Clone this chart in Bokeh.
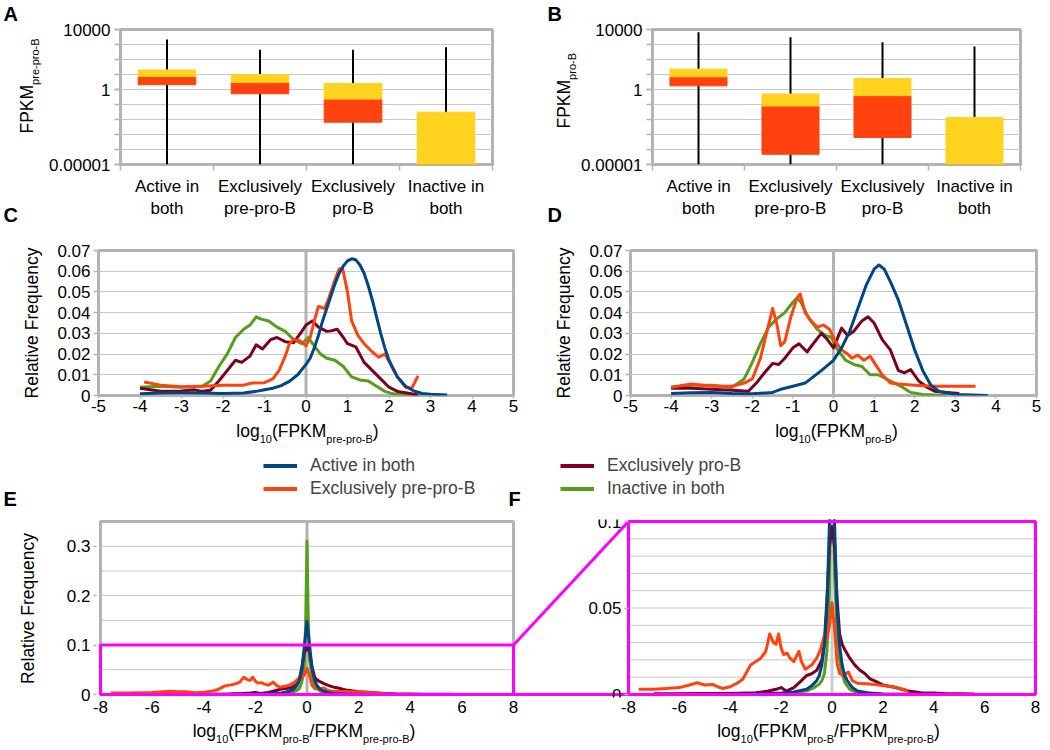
import math
from bokeh.plotting import figure
from bokeh.layouts import column, row
from bokeh.models import (Range1d, FixedTicker, NumeralTickFormatter, Label, Span,
                          Legend, LegendItem, LinearAxis)
from bokeh.embed import file_html
from bokeh.resources import INLINE

# ------------------------------------------------------------------ data
CATEGORIES = ["Active in both", "Exclusively pre-pro-B", "Exclusively pro-B", "Inactive in both"]
CATEGORY_TICK_LABELS = ["Active in\nboth", "Exclusively\npre-pro-B", "Exclusively\npro-B", "Inactive in\nboth"]

# Panel A: FPKM in pre-pro-B (box statistics per category)
A_MIN = [1e-5, 1e-5, 1e-5, 1e-5]
A_Q1 = [2.1, 0.52, 0.0066, 1e-5]
A_MEDIAN = [7.4, 2.9, 0.23, 1e-5]
A_Q3 = [20, 10, 2.5, 0.031]
A_MAX = [2150, 440, 440, 660]
# Panel B: FPKM in pro-B
B_MIN = [1e-5, 1e-5, 1e-5, 1e-5]
B_Q1 = [1.75, 4.8e-5, 6.3e-4, 1e-5]
B_MEDIAN = [7.0, 0.079, 0.39, 1e-5]
B_Q3 = [23, 0.5, 5.4, 0.0138]
B_MAX = [6600, 3050, 1400, 730]

FPKM_GRID_TICKS = [1e-5, 1e-4, 1e-3, 1e-2, 1e-1, 1, 10, 100, 1000, 1e4]
FPKM_LABEL_TICKS = [1e-5, 1, 1e4]

FREQ_TICKS = [0, 0.01, 0.02, 0.03, 0.04, 0.05, 0.06, 0.07]
LOG_TICKS = [-5, -4, -3, -2, -1, 0, 1, 2, 3, 4, 5]

# Panel C: distributions of log10(FPKM pre-pro-B)
C_X_ACTIVE = [-4.0, -3.5, -3.0, -2.5, -2.0, -1.5, -1.2, -1.0, -0.8, -0.6, -0.4, -0.2, 0.0, 0.1, 0.2, 0.3, 0.4, 0.5, 0.6, 0.7, 0.8, 0.9, 1.0, 1.1, 1.2, 1.3, 1.4, 1.5, 1.6, 1.7, 1.8, 1.9, 2.0, 2.2, 2.4, 2.6, 2.8, 3.0, 3.4]
C_Y_ACTIVE = [0.0008, 0.0012, 0.0013, 0.0012, 0.0010, 0.0012, 0.0020, 0.0028, 0.0035, 0.0048, 0.0068, 0.0100, 0.0150, 0.0180, 0.0230, 0.0290, 0.0360, 0.0420, 0.0480, 0.0540, 0.0590, 0.0625, 0.0650, 0.0660, 0.0655, 0.0630, 0.0590, 0.0530, 0.0460, 0.0380, 0.0300, 0.0230, 0.0170, 0.0090, 0.0045, 0.0022, 0.0010, 0.0006, 0.0002]
C_X_PREPRO = [-3.9, -3.5, -3.0, -2.5, -2.0, -1.5, -1.3, -1.0, -0.8, -0.65, -0.5, -0.4, -0.3, -0.15, 0.0, 0.1, 0.2, 0.3, 0.45, 0.55, 0.7, 0.8, 0.88, 1.0, 1.1, 1.25, 1.4, 1.6, 1.75, 1.9, 2.0, 2.2, 2.4, 2.55, 2.7]
C_Y_PREPRO = [0.0065, 0.0050, 0.0042, 0.0045, 0.0050, 0.0050, 0.0060, 0.0062, 0.0080, 0.0120, 0.0190, 0.0250, 0.0270, 0.0265, 0.0240, 0.0280, 0.0360, 0.0430, 0.0420, 0.0470, 0.0560, 0.0610, 0.0615, 0.0500, 0.0360, 0.0290, 0.0250, 0.0210, 0.0185, 0.0200, 0.0165, 0.0090, 0.0040, 0.0035, 0.0095]
C_X_PRO = [-4.0, -3.5, -3.0, -2.7, -2.5, -2.3, -2.1, -1.9, -1.7, -1.55, -1.35, -1.2, -1.05, -0.85, -0.7, -0.5, -0.3, -0.1, 0.0, 0.15, 0.3, 0.5, 0.6, 0.75, 0.9, 1.0, 1.2, 1.4, 1.6, 1.8, 2.0, 2.2, 2.5, 2.7]
C_Y_PRO = [0.0035, 0.0020, 0.0022, 0.0028, 0.0020, 0.0025, 0.0070, 0.0120, 0.0170, 0.0160, 0.0190, 0.0245, 0.0225, 0.0270, 0.0280, 0.0260, 0.0255, 0.0310, 0.0340, 0.0360, 0.0330, 0.0310, 0.0312, 0.0320, 0.0280, 0.0250, 0.0235, 0.0160, 0.0120, 0.0080, 0.0040, 0.0020, 0.0010, 0.0002]
C_X_INACTIVE = [-4.0, -3.5, -3.0, -2.5, -2.3, -2.1, -1.9, -1.7, -1.5, -1.35, -1.2, -1.1, -0.9, -0.7, -0.5, -0.3, -0.1, 0.05, 0.2, 0.35, 0.5, 0.7, 0.9, 1.1, 1.3, 1.5, 1.7, 1.9, 2.1, 2.4, 2.8]
C_Y_INACTIVE = [0.0040, 0.0045, 0.0040, 0.0045, 0.0070, 0.0140, 0.0200, 0.0280, 0.0320, 0.0340, 0.0380, 0.0370, 0.0360, 0.0330, 0.0310, 0.0270, 0.0250, 0.0280, 0.0240, 0.0200, 0.0180, 0.0170, 0.0140, 0.0090, 0.0075, 0.0070, 0.0045, 0.0020, 0.0008, 0.0003, 0.0000]

# Panel D: distributions of log10(FPKM pro-B)
D_X_ACTIVE = [-4.0, -3.5, -3.0, -2.5, -2.0, -1.5, -1.3, -1.0, -0.7, -0.5, -0.3, 0.0, 0.2, 0.4, 0.6, 0.8, 1.0, 1.12, 1.25, 1.4, 1.6, 1.8, 2.0, 2.2, 2.4, 2.6, 3.0, 3.4, 3.8]
D_Y_ACTIVE = [0.0010, 0.0013, 0.0015, 0.0010, 0.0008, 0.0015, 0.0030, 0.0045, 0.0060, 0.0090, 0.0120, 0.0170, 0.0230, 0.0310, 0.0420, 0.0530, 0.0610, 0.0630, 0.0610, 0.0550, 0.0460, 0.0340, 0.0220, 0.0120, 0.0050, 0.0020, 0.0005, 0.0002, 0.0000]
D_X_PREPRO = [-4.0, -3.5, -3.0, -2.5, -2.2, -2.0, -1.8, -1.65, -1.5, -1.4, -1.3, -1.2, -1.05, -0.9, -0.82, -0.7, -0.55, -0.4, -0.25, -0.1, 0.05, 0.2, 0.35, 0.45, 0.6, 0.75, 0.9, 1.0, 1.2, 1.4, 1.6, 2.0, 2.5, 3.0, 3.5]
D_Y_PREPRO = [0.0040, 0.0055, 0.0045, 0.0045, 0.0060, 0.0080, 0.0180, 0.0300, 0.0420, 0.0350, 0.0240, 0.0260, 0.0380, 0.0470, 0.0490, 0.0400, 0.0360, 0.0330, 0.0340, 0.0320, 0.0260, 0.0220, 0.0200, 0.0180, 0.0195, 0.0170, 0.0190, 0.0160, 0.0100, 0.0060, 0.0055, 0.0050, 0.0045, 0.0045, 0.0045]
D_X_PRO = [-4.0, -3.5, -3.0, -2.5, -2.1, -1.9, -1.7, -1.5, -1.35, -1.2, -1.0, -0.85, -0.65, -0.5, -0.3, -0.15, 0.0, 0.2, 0.35, 0.5, 0.7, 0.85, 1.0, 1.2, 1.4, 1.6, 1.75, 1.9, 2.1, 2.3, 2.5, 2.8, 3.1]
D_Y_PRO = [0.0035, 0.0035, 0.0030, 0.0025, 0.0020, 0.0060, 0.0110, 0.0155, 0.0150, 0.0180, 0.0230, 0.0250, 0.0210, 0.0250, 0.0300, 0.0270, 0.0230, 0.0325, 0.0290, 0.0310, 0.0360, 0.0380, 0.0350, 0.0270, 0.0220, 0.0120, 0.0110, 0.0125, 0.0070, 0.0040, 0.0020, 0.0015, 0.0010]
D_X_INACTIVE = [-4.0, -3.5, -3.0, -2.5, -2.2, -2.0, -1.8, -1.6, -1.4, -1.2, -1.0, -0.9, -0.8, -0.6, -0.4, -0.2, -0.05, 0.1, 0.3, 0.5, 0.7, 0.9, 1.1, 1.3, 1.5, 1.7, 1.9, 2.2, 2.8]
D_Y_INACTIVE = [0.0040, 0.0050, 0.0050, 0.0040, 0.0080, 0.0160, 0.0250, 0.0330, 0.0370, 0.0400, 0.0450, 0.0470, 0.0450, 0.0370, 0.0320, 0.0290, 0.0280, 0.0220, 0.0170, 0.0150, 0.0140, 0.0100, 0.0100, 0.0080, 0.0060, 0.0040, 0.0015, 0.0005, 0.0000]

# Panels E/F: distributions of log10(FPKM pro-B / FPKM pre-pro-B)
E_X_ACTIVE = [-5.0, -4.0, -3.0, -2.0, -1.5, -1.0, -0.8, -0.6, -0.5, -0.4, -0.3, -0.2, -0.1, 0.0, 0.1, 0.2, 0.3, 0.4, 0.5, 0.6, 0.8, 1.0, 1.5, 2.0, 3.0, 4.0]
E_Y_ACTIVE = [0.0, 0.0002, 0.0004, 0.0008, 0.0015, 0.003, 0.005, 0.008, 0.011, 0.017, 0.028, 0.05, 0.1, 0.148, 0.1, 0.05, 0.028, 0.017, 0.011, 0.008, 0.004, 0.002, 0.0008, 0.0003, 0.0001, 0.0]
E_X_PREPRO = [-7.6, -7.0, -6.5, -6.0, -5.6, -5.3, -5.0, -4.7, -4.5, -4.3, -4.0, -3.7, -3.5, -3.2, -3.0, -2.8, -2.6, -2.45, -2.3, -2.2, -2.1, -2.0, -1.9, -1.77, -1.65, -1.5, -1.4, -1.3, -1.2, -1.05, -0.9, -0.8, -0.6, -0.45, -0.3, -0.2, -0.1, 0.0, 0.1, 0.2, 0.3, 0.45, 0.65, 0.8, 1.0, 1.5, 2.0, 2.5, 3.0]
E_Y_PREPRO = [0.003, 0.003, 0.0035, 0.004, 0.0055, 0.0068, 0.0055, 0.0058, 0.0045, 0.0035, 0.0045, 0.0068, 0.009, 0.017, 0.019, 0.021, 0.025, 0.035, 0.030, 0.029, 0.035, 0.027, 0.023, 0.024, 0.021, 0.019, 0.022, 0.025, 0.019, 0.0146, 0.016, 0.017, 0.021, 0.026, 0.034, 0.032, 0.040, 0.053, 0.038, 0.018, 0.012, 0.011, 0.013, 0.008, 0.0065, 0.006, 0.0052, 0.0042, 0.002]
E_X_PRO = [-7.0, -6.0, -5.0, -4.0, -3.0, -2.5, -2.2, -2.0, -1.8, -1.5, -1.2, -1.0, -0.8, -0.6, -0.4, -0.3, -0.2, -0.1, 0.0, 0.1, 0.2, 0.3, 0.4, 0.5, 0.7, 0.9, 1.1, 1.3, 1.5, 1.8, 2.0, 2.5, 3.0, 3.5, 4.0, 4.5, 5.0, 5.6]
E_Y_PRO = [0.0005, 0.0005, 0.0006, 0.0006, 0.001, 0.002, 0.003, 0.004, 0.002, 0.004, 0.008, 0.011, 0.012, 0.014, 0.02, 0.03, 0.055, 0.085, 0.097, 0.085, 0.055, 0.035, 0.029, 0.026, 0.021, 0.017, 0.014, 0.012, 0.009, 0.007, 0.0055, 0.004, 0.002, 0.001, 0.0008, 0.0005, 0.0005, 0.0003]
E_X_INACTIVE = [-3.0, -2.0, -1.0, -0.7, -0.5, -0.4, -0.3, -0.2, -0.1, -0.05, 0.0, 0.05, 0.1, 0.2, 0.3, 0.4, 0.5, 0.7, 1.0, 2.0, 3.0]
E_Y_INACTIVE = [0.0002, 0.0005, 0.002, 0.004, 0.006, 0.008, 0.012, 0.025, 0.06, 0.15, 0.31, 0.15, 0.07, 0.035, 0.02, 0.012, 0.007, 0.003, 0.001, 0.0003, 0.0]

RATIO_TICKS = [-8, -6, -4, -2, 0, 2, 4, 6, 8]
E_Y_TICKS = [0, 0.1, 0.2, 0.3]
E_GRID = [0.05, 0.1, 0.15, 0.2, 0.25, 0.3]
E_YMAX = 0.35
F_YMAX = 0.1
F_Y_TICKS = [0, 0.05, 0.1]
F_GRID = [0.01, 0.02, 0.03, 0.04, 0.05, 0.06, 0.07, 0.08, 0.09]

# ------------------------------------------------------------------ style
FONT = "Liberation Sans"
TICK_FS = "17px"
TEXT_FS = 17.5
SUB_FS = 11
SUB_DROP = 5
MID = 0.35          # distance (in em) from the text's middle line down to its baseline
GRAY = "#b3b3b3"
GRID = "#c8c8c8"
BLUE, ORANGE, YELLOW, DARKRED, GREEN = "#004586", "#ff420e", "#ffd320", "#7e0021", "#579d1c"
MAGENTA = "#ff00ff"
SERIES_COLORS = [BLUE, ORANGE, DARKRED, GREEN]

CW = {'l': 222, 'o': 556, 'g': 556, 'p': 556, 'r': 333, 'e': 556, 'B': 667, 'F': 611,
      'P': 667, 'K': 667, 'M': 833, '(': 333, ')': 333, '/': 278, '-': 333}


def text_width(s, size):
    return sum(CW.get(c, 556) for c in s) * size / 1000.0


def strip(width, height):
    """A text-only canvas whose data units are its own pixels (y grows downwards)."""
    p = figure(width=width, height=height, x_range=Range1d(0, width), y_range=Range1d(height, 0),
               x_axis_location=None, y_axis_location=None, min_border=0, frame_align=False,
               output_backend="svg", toolbar_location=None)
    p.outline_line_color = None
    p.grid.visible = False
    return p


def rich(p, x0, y0, parts, start=None, vertical=False):
    """Text with subscripts; (x0, y0) is on the baseline (start or centre of the text)."""
    sizes = [SUB_FS if sub else TEXT_FS for _, sub in parts]
    widths = [text_width(t, s) for (t, _), s in zip(parts, sizes)]
    pos = -sum(widths) / 2.0 if start is None else start
    for (t, sub), s, w in zip(parts, sizes, widths):
        drop = SUB_DROP if sub else 0
        if vertical:
            x, y, ang = x0 + drop - MID * s, y0 - pos, math.pi / 2
        else:
            x, y, ang = x0 + pos, y0 + drop - MID * s, 0.0
        p.add_layout(Label(x=x, y=y, text=t, angle=ang, text_align="left",
                           text_baseline="middle", text_font=FONT,
                           text_font_size=f"{s}px", text_color="black"))
        pos += w


def letter(p, x, y, text):
    p.add_layout(Label(x=x, y=y - MID * 20, text=text, text_font=FONT, text_font_size="20px",
                       text_font_style="bold", text_color="black",
                       text_align="left", text_baseline="middle"))


def style_axis(ax, tick_out=5, standoff=3):
    ax.axis_line_color = None
    ax.major_tick_line_color = GRAY
    ax.minor_tick_line_color = GRAY
    ax.major_tick_line_width = 1.5
    ax.minor_tick_line_width = 1.5
    ax.major_tick_in = 0
    ax.major_tick_out = tick_out
    ax.minor_tick_in = 0
    ax.minor_tick_out = 0
    ax.major_label_standoff = standoff
    ax.major_label_text_font = FONT
    ax.major_label_text_font_size = TICK_FS
    ax.major_label_text_color = "black"
    ax.axis_label_text_font = FONT
    ax.axis_label_text_font_size = f"{TEXT_FS}px"
    ax.axis_label_text_font_style = "normal"
    ax.axis_label_text_color = "black"


# ------------------------------------------------------------------ row 1 : A / B
H1 = 225


def box_fig(width, left, right, q1, med, q3, lo, hi):
    p = figure(width=width, height=H1, x_range=Range1d(0, len(CATEGORIES)),
               y_range=Range1d(FPKM_GRID_TICKS[0], FPKM_GRID_TICKS[-1]), y_axis_type="log",
               output_backend="svg", toolbar_location=None, frame_align=False,
               min_border_left=left, min_border_right=right, min_border_top=29, min_border_bottom=61)
    p.outline_line_color = GRAY
    p.outline_line_width = 3
    p.xgrid.visible = False
    p.ygrid.ticker = FixedTicker(ticks=FPKM_GRID_TICKS)
    p.ygrid.grid_line_color = GRID
    xs = [i + 0.5 for i in range(len(CATEGORIES))]
    p.segment(x0=xs, y0=lo, x1=xs, y1=hi, line_color="black", line_width=2)
    p.vbar(x=xs, width=0.62, bottom=q1, top=med, fill_color=ORANGE, line_color=ORANGE)
    p.vbar(x=xs, width=0.62, bottom=med, top=q3, fill_color=YELLOW, line_color=YELLOW)
    style_axis(p.yaxis[0], tick_out=6, standoff=4)
    p.yaxis.ticker = FixedTicker(ticks=FPKM_LABEL_TICKS, minor_ticks=FPKM_GRID_TICKS)
    p.yaxis.minor_tick_out = 6
    p.yaxis.formatter = NumeralTickFormatter(format="0.[00000]")
    style_axis(p.xaxis[0], tick_out=0, standoff=6)
    p.xaxis.ticker = FixedTicker(ticks=xs, minor_ticks=list(range(len(CATEGORIES) + 1)))
    p.xaxis.minor_tick_out = 6
    p.xaxis.major_label_overrides = {x: lab for x, lab in zip(xs, CATEGORY_TICK_LABELS)}
    return p


sa = strip(45, H1)
letter(sa, 3, 20, "A")
letter(sa, 3, 221, "C")
rich(sa, 33, 133, [("FPKM", 0), ("pre-pro-B", 1)], start=0, vertical=True)
pa = box_fig(475, 75, 28, A_Q1, A_MEDIAN, A_Q3, A_MIN, A_MAX)

sb = strip(58, H1)
letter(sb, 27, 20, "B")
letter(sb, 27, 221, "D")
rich(sb, 50, 128, [("FPKM", 0), ("pro-B", 1)], start=0, vertical=True)
pb = box_fig(472, 74, 30, B_Q1, B_MEDIAN, B_Q3, B_MIN, B_MAX)


# ------------------------------------------------------------------ row 2 : C / D
H2 = 194


def dist_fig(width, left, right, series):
    p = figure(width=width, height=H2, x_range=Range1d(LOG_TICKS[0], LOG_TICKS[-1]),
               y_range=Range1d(FREQ_TICKS[0], FREQ_TICKS[-1]),
               output_backend="svg", toolbar_location=None, frame_align=False,
               min_border_left=left, min_border_right=right, min_border_top=25, min_border_bottom=24)
    p.outline_line_color = GRAY
    p.outline_line_width = 3
    p.xgrid.visible = False
    p.ygrid.ticker = FixedTicker(ticks=FREQ_TICKS)
    p.ygrid.grid_line_color = GRID
    style_axis(p.yaxis[0], tick_out=5, standoff=3)
    p.yaxis.ticker = FixedTicker(ticks=FREQ_TICKS)
    p.yaxis.formatter = NumeralTickFormatter(format="0.[00]")
    p.yaxis.axis_label = "Relative Frequency"
    p.yaxis.axis_label_standoff = 12
    style_axis(p.xaxis[0], tick_out=3, standoff=1)
    p.xaxis.ticker = FixedTicker(ticks=LOG_TICKS)
    p.xaxis.formatter = NumeralTickFormatter(format="0")
    p.add_layout(Span(location=0, dimension="height", line_color=GRAY, line_width=3, level="underlay"))
    for (xs, ys), color in reversed(list(zip(series, SERIES_COLORS))):
        p.line(xs, ys, line_color=color, line_width=3, line_join="round")
    return p


pc = dist_fig(520, 98, 7, [(C_X_ACTIVE, C_Y_ACTIVE), (C_X_PREPRO, C_Y_PREPRO),
                           (C_X_PRO, C_Y_PRO), (C_X_INACTIVE, C_Y_INACTIVE)])
pd = dist_fig(530, 110, 14, [(D_X_ACTIVE, D_Y_ACTIVE), (D_X_PREPRO, D_Y_PREPRO),
                             (D_X_PRO, D_Y_PRO), (D_X_INACTIVE, D_Y_INACTIVE)])

# ------------------------------------------------------------------ strip between rows 2 and 3
s2 = strip(1050, 90)
rich(s2, 307, 18, [("log", 0), ("10", 1), ("(FPKM", 0), ("pre-pro-B", 1), (")", 0)])
rich(s2, 836, 18, [("log", 0), ("10", 1), ("(FPKM", 0), ("pro-B", 1), (")", 0)])
letter(s2, 3, 86, "E")
letter(s2, 508, 86, "F")
NAN = float("nan")
legend_glyphs = {c: s2.line(x=[NAN], y=[NAN], line_color=col, line_width=4)
                 for c, col in zip(CATEGORIES, SERIES_COLORS)}
for cats, vx in ((CATEGORIES[:2], 263), (CATEGORIES[2:], 560)):
    leg = Legend(items=[LegendItem(label=c, renderers=[legend_glyphs[c]]) for c in cats],
                 location=(vx, 9.5), orientation="vertical",
                 border_line_color=None, background_fill_alpha=0,
                 padding=0, margin=0, spacing=0, glyph_width=34, glyph_height=23,
                 label_height=23, label_standoff=13,
                 label_text_font=FONT, label_text_font_size=f"{TEXT_FS}px")
    s2.add_layout(leg)

# ------------------------------------------------------------------ row 3 : E / F (one canvas, two coordinate systems)
W3, H3 = 1050, 211
FL, FR, FT, FB = 96, 1037, 10, 188          # frame edges (canvas px)
E_PX = (100, 513)                           # where x = -8 / +8 of panel E sit
F_PX = (628, 1035)                          # where x = -8 / +8 of panel F sit
Y_PX = (185, 12)                            # where y = 0 / top of both panels sit


def span_range(v0, v1, p0, p1, f0, f1):
    k = (v1 - v0) / (p1 - p0)
    return v0 + (f0 - p0) * k, v0 + (f1 - p0) * k


xmin, xmax = RATIO_TICKS[0], RATIO_TICKS[-1]
ex = span_range(xmin, xmax, E_PX[0], E_PX[1], FL, FR)
fx = span_range(xmin, xmax, F_PX[0], F_PX[1], FL, FR)
ey = span_range(0, E_YMAX, Y_PX[0], Y_PX[1], FB, FT)
fy = span_range(0, F_YMAX, Y_PX[0], Y_PX[1], FB, FT)

pe = figure(width=W3, height=H3, x_range=Range1d(*ex), y_range=Range1d(*ey),
            output_backend="svg", toolbar_location=None, frame_align=False,
            min_border_left=FL, min_border_right=W3 - FR, min_border_top=FT, min_border_bottom=H3 - FB)
pe.extra_x_ranges = {"f": Range1d(*fx)}
pe.extra_y_ranges = {"fy": Range1d(*fy)}
pe.outline_line_color = None
pe.xgrid.visible = False
pe.ygrid.visible = False


def e_coord_of_px(px):
    return xmin + (px - E_PX[0]) * (xmax - xmin) / (E_PX[1] - E_PX[0])


f_in_e = [e_coord_of_px(F_PX[0] + (t - xmin) * (F_PX[1] - F_PX[0]) / (xmax - xmin)) for t in RATIO_TICKS]
style_axis(pe.xaxis[0], tick_out=0, standoff=3)
pe.xaxis.ticker = FixedTicker(ticks=RATIO_TICKS + f_in_e)
overrides = {t: str(t) for t in RATIO_TICKS}
overrides.update({v: str(t) for v, t in zip(f_in_e, RATIO_TICKS)})
pe.xaxis.major_label_overrides = overrides
style_axis(pe.yaxis[0], tick_out=3, standoff=3)
pe.yaxis.ticker = FixedTicker(ticks=E_Y_TICKS)
pe.yaxis.formatter = NumeralTickFormatter(format="0.[0]")
pe.yaxis.axis_label = "Relative Frequency"
pe.yaxis.axis_label_standoff = 26

# y axis of panel F, pinned at its left edge
f_axis = LinearAxis(x_range_name="f", y_range_name="fy", fixed_location=xmin,
                    ticker=FixedTicker(ticks=F_Y_TICKS), formatter=NumeralTickFormatter(format="0.[00]"))
style_axis(f_axis, tick_out=4, standoff=3)
pe.add_layout(f_axis, "left")

# panel E background structure
pe.segment(x0=xmin, x1=xmax, y0=E_GRID, y1=E_GRID, line_color=GRID, line_width=1)
pe.segment(x0=0, x1=0, y0=0, y1=E_YMAX, line_color=GRAY, line_width=3)
pe.quad(left=xmin, right=xmax, bottom=0, top=E_YMAX, fill_alpha=0, line_color=GRAY, line_width=3)
# panel F background structure
pe.segment(x0=xmin, x1=xmax, y0=F_GRID, y1=F_GRID, line_color=GRID, line_width=1,
           x_range_name="f", y_range_name="fy")
pe.segment(x0=0, x1=0, y0=0, y1=F_YMAX, line_color="#cccccc", line_width=3,
           x_range_name="f", y_range_name="fy")

e_series = [(E_X_ACTIVE, E_Y_ACTIVE), (E_X_PREPRO, E_Y_PREPRO), (E_X_PRO, E_Y_PRO), (E_X_INACTIVE, E_Y_INACTIVE)]
for (xs, ys), color in reversed(list(zip(e_series, SERIES_COLORS))):
    pe.line(xs, ys, line_color=color, line_width=3, line_join="round")
for (xs, ys), color in reversed(list(zip(e_series, SERIES_COLORS))):
    pe.line(xs, ys, line_color=color, line_width=3, line_join="round",
            x_range_name="f", y_range_name="fy")

# zoom box in E, frame of F and the connecting lines
pe.quad(left=xmin, right=xmax, bottom=0, top=F_YMAX, fill_alpha=0, line_color=MAGENTA, line_width=3)
pe.quad(left=xmin, right=xmax, bottom=0, top=F_YMAX, fill_alpha=0, line_color=MAGENTA, line_width=3,
        x_range_name="f", y_range_name="fy")
f_left_in_e = e_coord_of_px(F_PX[0])
pe.segment(x0=[xmax, xmax], y0=[F_YMAX, 0], x1=[f_left_in_e, f_left_in_e], y1=[E_YMAX, 0],
           line_color=MAGENTA, line_width=3)

# ------------------------------------------------------------------ bottom strip (axis titles of E and F)
s3 = strip(1050, 28)
ratio_parts = [("log", 0), ("10", 1), ("(FPKM", 0), ("pro-B", 1), ("/FPKM", 0), ("pre-pro-B", 1), (")", 0)]
rich(s3, 303.5, 17, ratio_parts)
rich(s3, 828, 17, ratio_parts)

layout = column(row(sa, pa, sb, pb), row(pc, pd), s2, pe, s3)
open("out.html", "w").write(file_html(layout, INLINE))
